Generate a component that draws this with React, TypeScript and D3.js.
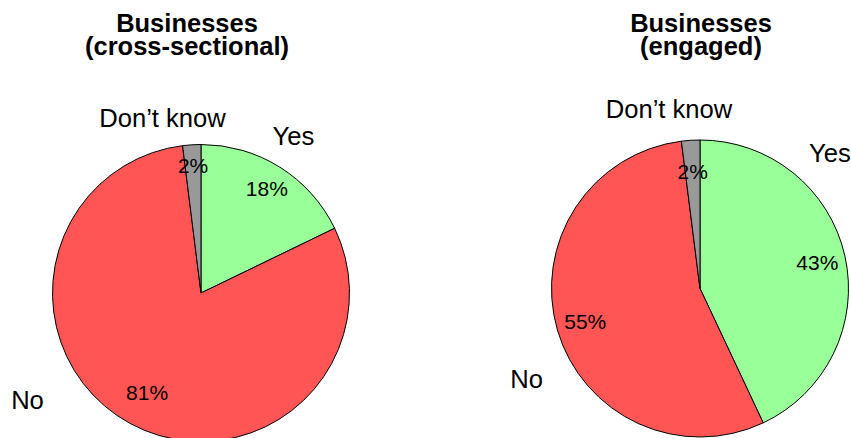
import React from "react";
import * as d3 from "d3";

const categories = ["Yes", "No", "Don\u2019t know"];
const crossSectional = [18, 81, 2];
const engaged = [43, 55, 2];
const titlesLeft = ["Businesses", "(cross-sectional)"];
const titlesRight = ["Businesses", "(engaged)"];

const colors = ["#99FF99", "#FF5555", "#999999"];

type PieCfg = {
  cx: number;
  cy: number;
  r: number;
  values: number[];
  title: string[];
  titleX: number;
  labelR: number[];
  outer: [number, number][];
};

const W = 851;
const H = 438;

const pies: PieCfg[] = [
  {
    cx: 201,
    cy: 293,
    r: 148.5,
    values: crossSectional,
    title: titlesLeft,
    titleX: 187,
    labelR: [0.835, 0.76, 0.86],
    outer: [
      [92.5, -157],
      [-173.5, 107],
      [-38.5, -175.5],
    ],
  },
  {
    cx: 700,
    cy: 288.5,
    r: 148.5,
    values: engaged,
    title: titlesRight,
    titleX: 701,
    labelR: [0.81, 0.805, 0.79],
    outer: [
      [130, -135.5],
      [-173.3, 90.5],
      [-31, -180],
    ],
  },
];

function Pie({ cfg }: { cfg: PieCfg }) {
  const pie = d3
    .pie<number>()
    .sort(null)
    .value((d) => d)
    .startAngle(0)
    .endAngle(2 * Math.PI);
  const arcs = pie(cfg.values);
  const arc = d3.arc<d3.PieArcDatum<number>>().innerRadius(0).outerRadius(cfg.r);
  return (
    <g>
      {cfg.title.map((t, i) => (
        <text
          key={i}
          x={cfg.titleX}
          y={31.5 + i * 23.8}
          textAnchor="middle"
          fontFamily="'Liberation Sans', Arial, sans-serif"
          fontWeight="bold"
          fontSize={25.5}
          fill="#000"
        >
          {t}
        </text>
      ))}
      <g transform={`translate(${cfg.cx},${cfg.cy})`}>
        {arcs.map((a, i) => (
          <path
            key={i}
            d={arc(a) || ""}
            fill={colors[i]}
            stroke="#000"
            strokeWidth={1}
            strokeLinejoin="round"
          />
        ))}
        {arcs.map((a, i) => {
          const mid = (a.startAngle + a.endAngle) / 2;
          const rr = cfg.r * cfg.labelR[i];
          const x = Math.sin(mid) * rr;
          const y = -Math.cos(mid) * rr;
          return (
            <text
              key={"p" + i}
              x={x}
              y={y}
              dy="0.36em"
              textAnchor="middle"
              fontFamily="'Liberation Sans', Arial, sans-serif"
              fontSize={21}
              fill="#000"
            >
              {Math.round(cfg.values[i]) + "%"}
            </text>
          );
        })}
        {categories.map((c, i) => (
          <text
            key={"o" + i}
            x={cfg.outer[i][0]}
            y={cfg.outer[i][1]}
            dy="0.36em"
            textAnchor="middle"
            fontFamily="'Liberation Sans', Arial, sans-serif"
            fontSize={25.6}
            fill="#000"
          >
            {c}
          </text>
        ))}
      </g>
    </g>
  );
}

export default function App() {
  return (
    <svg
      width={W}
      height={H}
      style={{ position: "fixed", left: 0, top: 0, background: "#fff" }}
    >
      <rect x={0} y={0} width={W} height={H} fill="#fff" />
      {pies.map((p, i) => (
        <Pie key={i} cfg={p} />
      ))}
    </svg>
  );
}
